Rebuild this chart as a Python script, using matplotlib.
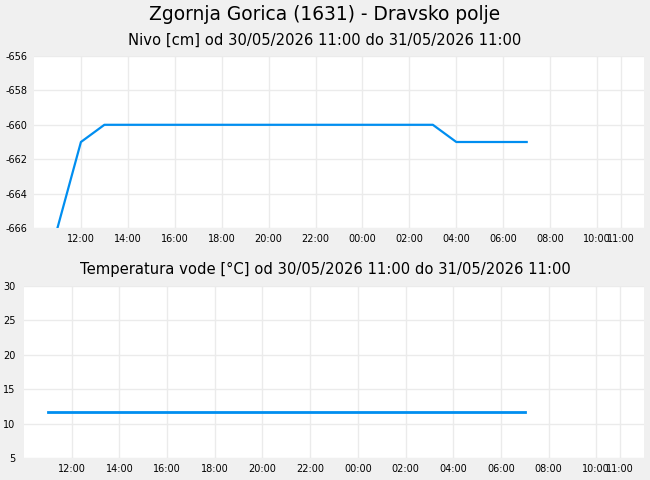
import numpy as np
import matplotlib
matplotlib.use("Agg")
import matplotlib.pyplot as plt
import matplotlib.dates as mdates
from datetime import datetime

# Nivo [cm]
nivo_cas = ["2026-05-30 11:00", "2026-05-30 12:00", "2026-05-30 13:00",
            "2026-05-31 03:00", "2026-05-31 04:00", "2026-05-31 07:00"]
nivo_vrednosti = [-666, -661, -660, -660, -661, -661]

# Temperatura vode [°C]
temp_cas = ["2026-05-30 11:00", "2026-05-31 07:00"]
temp_vrednosti = [11.7, 11.7]

# x os: 10:00 do 12:00 naslednji dan
x_od = datetime(2026, 5, 30, 10, 0)
x_do = datetime(2026, 5, 31, 12, 0)
x_ticki = [datetime(2026, 5, 30, h) for h in (12, 14, 16, 18, 20, 22)] + \
          [datetime(2026, 5, 31, h) for h in (0, 2, 4, 6, 8, 10, 11)]

barva_ozadja = "#f0f0f0"
barva_crte = "#008ef0"
barva_mreze = "#ebebeb"


def pretvori(cas):
    return [datetime.strptime(c, "%Y-%m-%d %H:%M") for c in cas]


def uredi_os(ax, ylim, yticki, ypad):
    ax.set_facecolor("white")
    for s in ax.spines.values():
        s.set_visible(False)
    ax.set_xlim(x_od, x_do)
    ax.set_ylim(*ylim)
    ax.set_yticks(yticki)
    ax.set_xticks(x_ticki)
    ax.xaxis.set_major_formatter(mdates.DateFormatter("%H:%M"))
    ax.grid(True, color=barva_mreze, linewidth=1)
    ax.set_axisbelow(True)
    ax.tick_params(axis="both", length=0, labelsize=7, colors="black")
    ax.tick_params(axis="x", pad=4)
    ax.tick_params(axis="y", pad=ypad)


fig = plt.figure(figsize=(6.5, 4.8), dpi=100, facecolor=barva_ozadja)

ax1 = fig.add_axes([34 / 650, 1 - 228 / 480, 610 / 650, 172 / 480])
ax1.plot(pretvori(nivo_cas), nivo_vrednosti, color=barva_crte, linewidth=1.6)
uredi_os(ax1, (-666, -656), np.arange(-666, -655, 2), 5)
ax1.set_yticklabels([f"{v}" for v in np.arange(-666, -655, 2)])

ax2 = fig.add_axes([24 / 650, 1 - 458 / 480, 620 / 650, 172 / 480])
ax2.plot(pretvori(temp_cas), temp_vrednosti, color=barva_crte, linewidth=2)
uredi_os(ax2, (5, 30), np.arange(5, 31, 5), 6)

fig.text(0.5, 1 - 14 / 480, "Zgornja Gorica (1631) - Dravsko polje",
         ha="center", va="center", fontsize=13.4)
fig.text(0.5, 1 - 40 / 480, "Nivo [cm] od 30/05/2026 11:00 do 31/05/2026 11:00",
         ha="center", va="center", fontsize=10.6)
fig.text(0.5, 1 - 269 / 480, "Temperatura vode [°C] od 30/05/2026 11:00 do 31/05/2026 11:00",
         ha="center", va="center", fontsize=10.6)

fig.savefig("out.png", dpi=100, facecolor=barva_ozadja)
